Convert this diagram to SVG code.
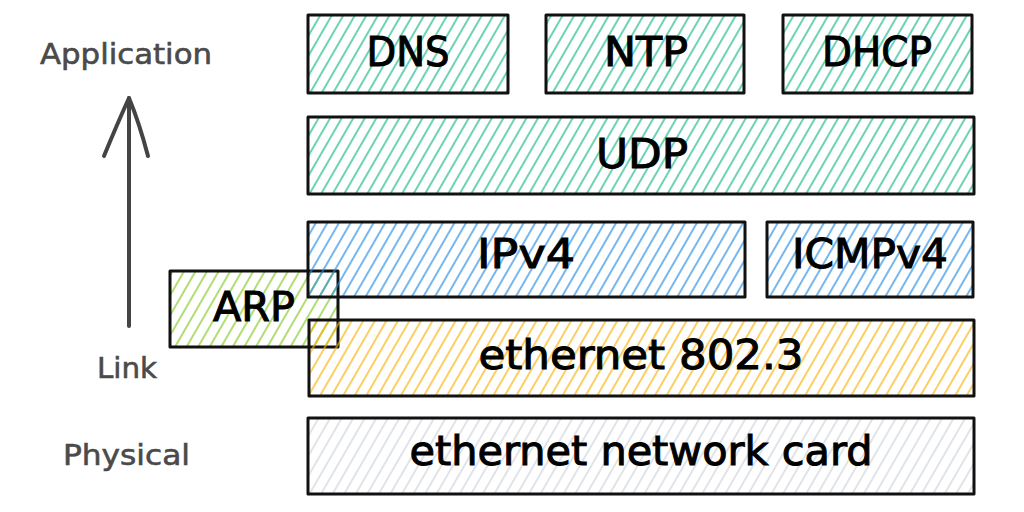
<svg xmlns="http://www.w3.org/2000/svg" width="1024" height="512" viewBox="0 0 1024 512">
  <style>
    .box { stroke: #111; stroke-width: 3; stroke-linejoin: round; }
    .lbl { font-family: "DejaVu Sans", "Liberation Sans", sans-serif; font-size: 40px; fill: #000; stroke: #000; stroke-width: 1; text-anchor: middle; }
    .side { font-family: "DejaVu Sans", "Liberation Sans", sans-serif; font-size: 29px; fill: #4a4a4a; stroke: #4a4a4a; stroke-width: 0.6; }
    .arrow { stroke: #444; stroke-width: 4; fill: none; stroke-linecap: round; stroke-linejoin: round; }
    .hl { stroke-width: 1.25; }
  </style>
  <defs>
    <pattern id="hTeal" width="10" height="10" patternUnits="userSpaceOnUse" patternTransform="rotate(30)">
      <line class="hl" x1="5" y1="0" x2="5" y2="10" stroke="#12b886"/>
    </pattern>
    <pattern id="hLime" width="10" height="10" patternUnits="userSpaceOnUse" patternTransform="rotate(30)">
      <line class="hl" x1="5" y1="0" x2="5" y2="10" stroke="#82c91e"/>
    </pattern>
    <pattern id="hBlue" width="10" height="10" patternUnits="userSpaceOnUse" patternTransform="rotate(30)">
      <line class="hl" x1="5" y1="0" x2="5" y2="10" stroke="#228be6"/>
    </pattern>
    <pattern id="hOrange" width="10" height="10" patternUnits="userSpaceOnUse" patternTransform="rotate(30)">
      <line class="hl" x1="5" y1="0" x2="5" y2="10" stroke="#fab005"/>
    </pattern>
    <pattern id="hGray" width="10" height="10" patternUnits="userSpaceOnUse" patternTransform="rotate(30)">
      <line class="hl" x1="5" y1="0" x2="5" y2="10" stroke="#ced4da"/>
    </pattern>
  </defs>
  <rect width="1024" height="512" fill="#fff"/>

  <g id="side-labels">
    <text class="side" x="40" y="64" textLength="172" lengthAdjust="spacingAndGlyphs">Application</text>
    <text class="side" x="97" y="378" textLength="60" lengthAdjust="spacingAndGlyphs">Link</text>
    <text class="side" x="63" y="465" textLength="127" lengthAdjust="spacingAndGlyphs">Physical</text>
  </g>

  <g id="connectors">
    <path class="arrow" d="M129,326 L129,98"/>
    <path class="arrow" d="M104,156 Q118,122 129,98 Q139,122 148,156"/>
  </g>

  <g id="arp">
    <rect class="box" x="170" y="271" width="168" height="76" fill="url(#hLime)"/>
    <text class="lbl" x="254" y="321" textLength="82" lengthAdjust="spacingAndGlyphs">ARP</text>
  </g>

  <g id="dns">
    <rect class="box" x="308" y="15" width="200" height="78" fill="url(#hTeal)"/>
    <text class="lbl" x="408" y="66" textLength="83" lengthAdjust="spacingAndGlyphs">DNS</text>
  </g>

  <g id="ntp">
    <rect class="box" x="546" y="15" width="198" height="78" fill="url(#hTeal)"/>
    <text class="lbl" x="646" y="66" textLength="84" lengthAdjust="spacingAndGlyphs">NTP</text>
  </g>

  <g id="dhcp">
    <rect class="box" x="783" y="15" width="189" height="78" fill="url(#hTeal)"/>
    <text class="lbl" x="877" y="66" textLength="110" lengthAdjust="spacingAndGlyphs">DHCP</text>
  </g>

  <g id="udp">
    <rect class="box" x="308" y="117" width="666" height="77" fill="url(#hTeal)"/>
    <text class="lbl" x="642" y="168" textLength="92" lengthAdjust="spacingAndGlyphs">UDP</text>
  </g>

  <g id="ipv4">
    <rect class="box" x="308" y="222" width="437" height="75" fill="url(#hBlue)"/>
    <text class="lbl" x="526" y="268" textLength="98" lengthAdjust="spacingAndGlyphs">IPv4</text>
  </g>

  <g id="icmpv4">
    <rect class="box" x="767" y="222" width="206" height="75" fill="url(#hBlue)"/>
    <text class="lbl" x="870" y="268" textLength="156" lengthAdjust="spacingAndGlyphs">ICMPv4</text>
  </g>

  <g id="ethernet">
    <rect class="box" x="309" y="320" width="665" height="76" fill="url(#hOrange)"/>
    <text class="lbl" x="641" y="369" textLength="325" lengthAdjust="spacingAndGlyphs">ethernet 802.3</text>
  </g>

  <g id="nic">
    <rect class="box" x="308" y="418" width="666" height="76" fill="url(#hGray)"/>
    <text class="lbl" x="641" y="465" textLength="463" lengthAdjust="spacingAndGlyphs">ethernet network card</text>
  </g>
</svg>
